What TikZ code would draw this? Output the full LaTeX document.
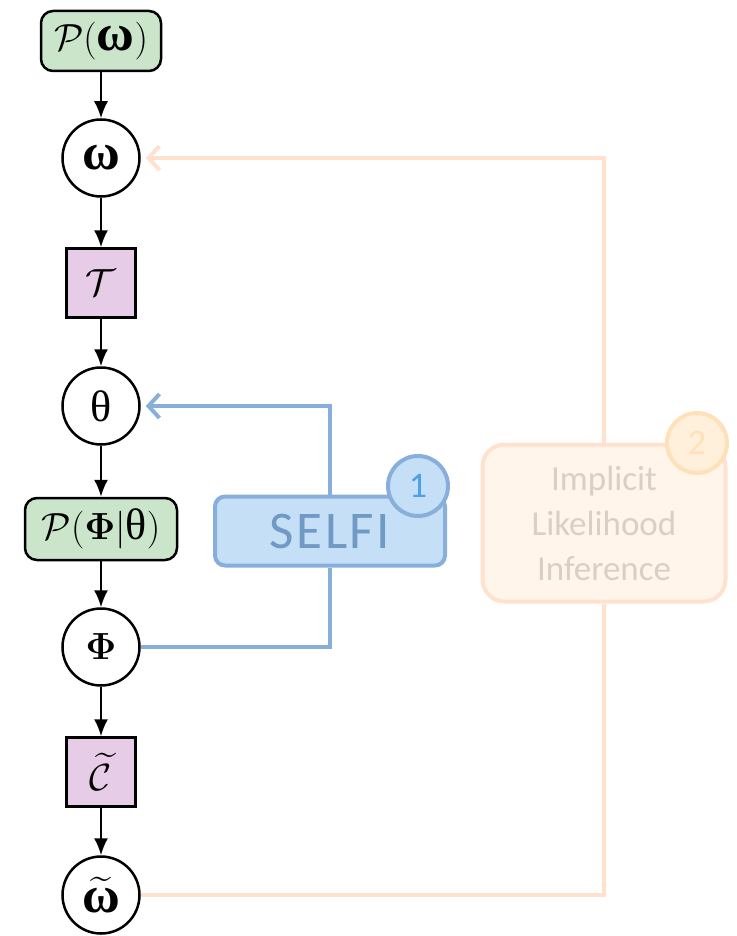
\documentclass[tikz,border=0pt]{standalone}
\usepackage{graphicx}
\usepackage{amsmath}
\usepackage{bm}
\usepackage{fontspec}
\usetikzlibrary{arrows.meta}
\newfontfamily\labelfont{Carlito}
\newfontfamily\grkfont{Liberation Serif}
\newcommand{\gomega}{\text{\grkfont\bfseries\fontsize{34}{34}\selectfont ω}}
\newcommand{\gtheta}{\text{\grkfont\fontsize{29}{29}\selectfont θ}}
% math labels are set at 24.88pt and enlarged
\newcommand{\mlab}[1]{\scalebox{1.52}{$#1$}}

\definecolor{pgreen}{HTML}{CBE5CB}
\definecolor{ppurple}{HTML}{E6CCE6}
\definecolor{sfill}{HTML}{C5DFF6}
\definecolor{sline}{HTML}{88AFDC}
\definecolor{stext}{HTML}{7099C6}
\definecolor{sbadge}{HTML}{4EA0EA}
\definecolor{ifill}{HTML}{FFF5EA}
\definecolor{iline}{HTML}{FFE1CE}
\definecolor{itext}{HTML}{D9CFC5}
\definecolor{ibfill}{HTML}{FFF0DC}
\definecolor{ibline}{HTML}{FFE0B8}

\tikzset{
  base/.style={draw=black, line width=2.5pt, font=\fontsize{24.88}{30}\selectfont, inner sep=0pt},
  prior/.style={base, fill=pgreen, rounded corners=12pt, minimum height=60pt},
  var/.style={base, circle, minimum size=77pt},
  op/.style={base, fill=ppurple, minimum size=69pt},
  flow/.style={draw=black, line width=2pt, -{Latex[length=17pt,width=14pt]}},
  bluepath/.style={draw=sline, line width=4pt},
  orpath/.style={draw=iline, line width=4pt},
  barb/.style={-{Straight Barb[length=11pt,width=24pt]}},
  badge/.style={circle, line width=4pt, minimum size=60pt, inner sep=0pt,
    font=\labelfont\fontsize{36}{40}\selectfont},
}

\begin{document}
\begin{tikzpicture}[x=1pt,y=-1pt]
\useasboundingbox (0,0) rectangle (736,936);

% generative chain
\node[prior, minimum width=120pt] (pw) at (101,41) {\mlab{\mathcal{P}(\gomega)}};
\node[var] (om) at (101,158) {\mlab{\gomega}};
\node[op] (tr) at (101,283) {\mlab{\mathcal{T}}};
\node[var] (th) at (101,406) {\mlab{\gtheta}};
\node[prior, minimum width=152pt, minimum height=62pt] (pphi) at (101,529) {\mlab{\mathcal{P}(\bm{\Phi}|\gtheta)}};
\node[var] (phi) at (101,647) {\mlab{\bm{\Phi}}};
\node[op] (cc) at (101,772) {\mlab{\widetilde{\mathcal{C}}}};
\node[var] (wt) at (101,895) {\mlab{\widetilde{\gomega}}};

\draw[flow] (pw) -- (om);
\draw[flow] (om) -- (tr);
\draw[flow] (tr) -- (th);
\draw[flow] (th) -- (pphi);
\draw[flow] (pphi) -- (phi);
\draw[flow] (phi) -- (cc);
\draw[flow] (cc) -- (wt);

% inference boxes
\node[draw=sline, fill=sfill, line width=4pt, rounded corners=10pt,
  minimum width=230pt, minimum height=69pt,
  font=\labelfont\addfontfeature{LetterSpace=5}\fontsize{53}{56}\selectfont, text=stext] (selfi) at (330,531) {SELFI};
\node[draw=iline, fill=ifill, line width=4pt, rounded corners=22pt,
  minimum width=243pt, minimum height=157pt, align=center,
  font=\labelfont\fontsize{35}{45}\selectfont, text=itext] (ili) at (604,523)
  {Implicit\\Likelihood\\Inference};

% connectors of the two inference routes
\draw[bluepath] (phi.east) -| (selfi.south);
\draw[bluepath, barb] (selfi.north) |- ([xshift=5pt]th.east);
\draw[orpath] (wt.east) -| (ili.south);
\draw[orpath, barb] (ili.north) |- ([xshift=5pt]om.east);

% numbered badges
\node[badge, draw=sline, fill=sfill, text=sbadge] (b1) at (418,486) {1};
\node[badge, draw=ibline, fill=ibfill, text=ibline] (b2) at (697,443) {2};
\end{tikzpicture}
\end{document}
